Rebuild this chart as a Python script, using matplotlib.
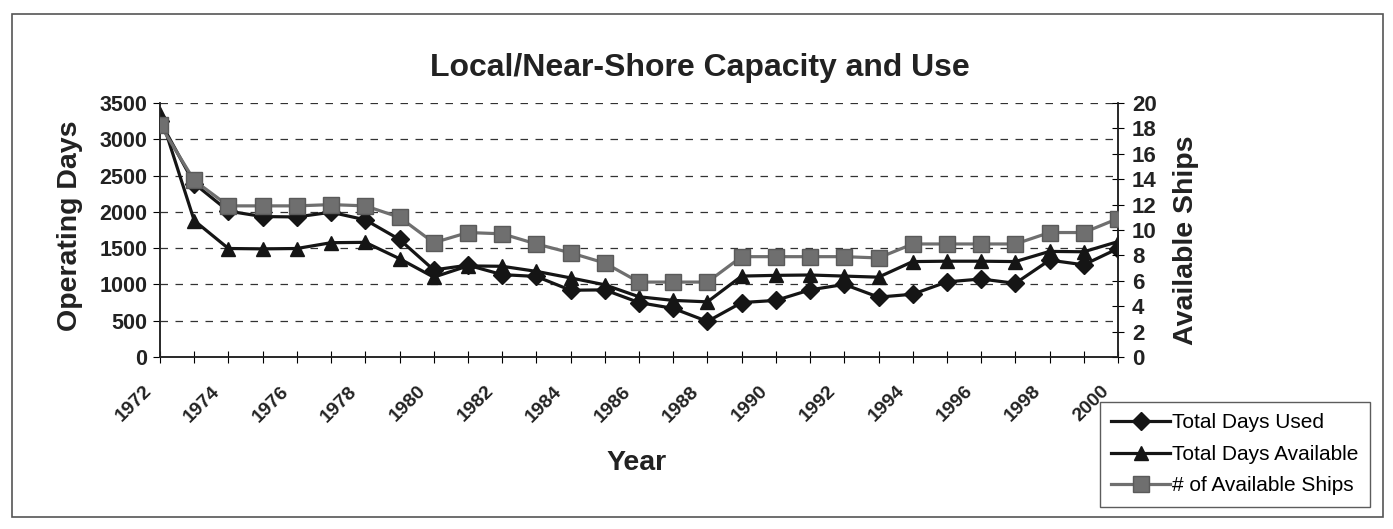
import numpy as np
import matplotlib.pyplot as plt
from matplotlib.patches import Rectangle
from matplotlib.transforms import ScaledTranslation

plt.rcParams['font.family'] = ['Liberation Sans', 'DejaVu Sans']

# data
years = list(range(1972, 2001))
days_used = [3250, 2390, 2010, 1935, 1930, 1995, 1890, 1620, 1200, 1265, 1135, 1110, 920, 925,
             750, 670, 490, 750, 780, 925, 1000, 825, 865, 1035, 1075, 1015, 1335, 1270, 1495]
days_avail = [3350, 1880, 1495, 1490, 1495, 1575, 1580, 1355, 1100, 1255, 1250, 1180, 1090, 995,
              830, 780, 760, 1115, 1125, 1130, 1115, 1100, 1315, 1320, 1320, 1315, 1455, 1450, 1590]
ships = [18.3, 13.9, 11.9, 11.9, 11.9, 12.0, 11.9, 11.0, 9.0, 9.8, 9.7, 8.9, 8.2, 7.4,
         5.9, 5.9, 5.9, 7.9, 7.9, 7.9, 7.9, 7.8, 8.9, 8.9, 8.9, 8.9, 9.8, 9.8, 10.9]
left_ticks = list(range(0, 3501, 500))
right_ticks = list(range(0, 21, 2))

W, H = 1393, 529
fig = plt.figure(figsize=(W / 100, H / 100), dpi=100)
ax = fig.add_axes([160 / W, 1 - 357 / H, (1118 - 160) / W, (357 - 103) / H])
ax2 = ax.twinx()

# chart border
fig.patches.append(Rectangle((12 / W, 12 / H), 1 - 22 / W, 1 - 26 / H, transform=fig.transFigure,
                             fill=False, edgecolor='#555555', linewidth=1.2))

dark = '#151515'
grey = '#6f6f6f'
l1, = ax.plot(years, days_used, '-D', color=dark, lw=2.3, ms=9.5, label='Total Days Used', zorder=3)
l2, = ax.plot(years, days_avail, '-^', color=dark, lw=2.3, ms=10.5, label='Total Days Available', zorder=3)
l3, = ax2.plot(years, ships, '-s', color=grey, mfc=grey, mec='#5a5a5a', lw=2.3, ms=11,
               label='# of Available Ships', zorder=3)

ax.set_xlim(1972, 2000)
ax.set_ylim(0, 3500)
ax2.set_ylim(0, 20)
ax.set_yticks(left_ticks)
ax2.set_yticks(right_ticks)
ax.set_xticks(years)
ax.set_xticklabels([str(y) if (y - 1972) % 2 == 0 else '' for y in years],
                   rotation=45, ha='right', va='top', rotation_mode='anchor')

for y in left_ticks[1:]:
    ax.axhline(y, color='#333333', lw=0.9, ls=(0, (6, 6)), zorder=1)

for a in (ax, ax2):
    a.spines['top'].set_visible(False)
    for s in a.spines.values():
        s.set_color('#222222')
        s.set_linewidth(1.1)
ax.tick_params(axis='y', direction='out', length=5, labelsize=15.5, pad=4)
ax.tick_params(axis='x', direction='inout', length=8, labelsize=14, pad=8)
ax2.tick_params(axis='y', direction='inout', length=8, labelsize=16, pad=6)
shift = ScaledTranslation(-0.17, -0.09, fig.dpi_scale_trans)
for lab in ax.get_xticklabels():
    lab.set_transform(lab.get_transform() + shift)
for lab in ax.get_xticklabels() + ax.get_yticklabels() + ax2.get_yticklabels():
    lab.set_fontweight('bold')
    lab.set_color('#222222')

fig.text(700 / W, 1 - 68 / H, 'Local/Near-Shore Capacity and Use', ha='center', va='center',
         fontsize=23, fontweight='bold', color='#222222')
fig.text(70 / W, 1 - 226 / H, 'Operating Days', rotation=90, ha='center', va='center',
         fontsize=20.5, fontweight='bold', color='#222222')
fig.text(1186 / W, 1 - 240 / H, 'Available Ships', rotation=90, ha='center', va='center',
         fontsize=20.5, fontweight='bold', color='#222222')
fig.text(637 / W, 1 - 463 / H, 'Year', ha='center', va='center',
         fontsize=20.5, fontweight='bold', color='#222222')

leg = fig.legend(handles=[l1, l2, l3], loc='upper left', bbox_to_anchor=(1100 / W, 1 - 402 / H),
                 fontsize=15, frameon=True, fancybox=False, edgecolor='#333333',
                 handlelength=2.8, handletextpad=0.1, labelspacing=0.6, borderpad=0.55,
                 borderaxespad=0)
leg.get_frame().set_linewidth(1.0)

fig.savefig('out.png', dpi=100)
